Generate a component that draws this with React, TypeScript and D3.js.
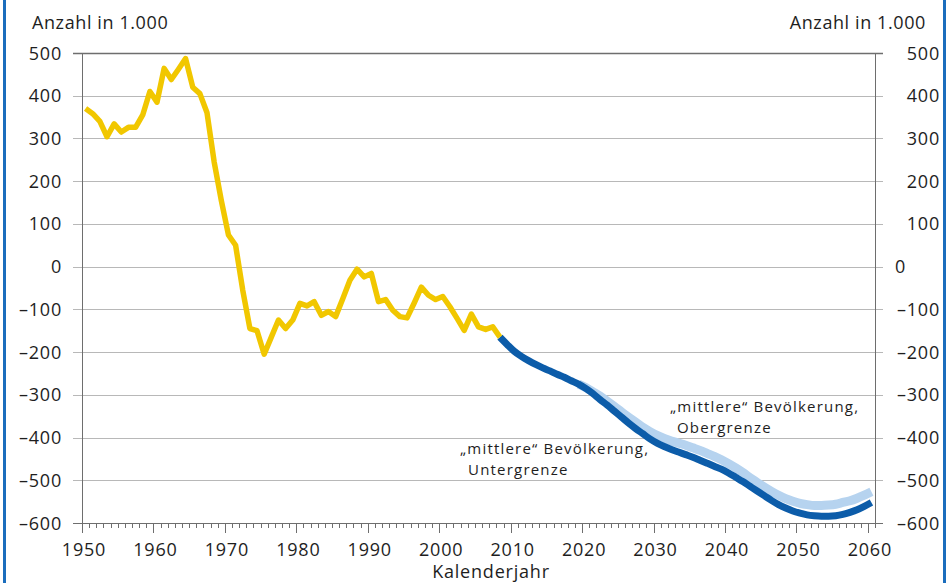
import React from "react";
import * as d3 from "d3";

// Observed values, 1950–2008 (thousands)
const observedStart = 1950;
const observed = [
  370, 358, 340, 304, 334, 315, 326, 326, 355, 410,
  385, 464, 438, 462, 487, 420, 405, 360, 245, 155,
  74, 50, -55, -145, -150, -205, -165, -125, -145, -125,
  -86, -92, -82, -114, -105, -117, -75, -32, -6, -24,
  -16, -82, -77, -102, -117, -120, -85, -48, -67, -77,
  -70, -94, -121, -149, -111, -141, -147, -141, -165,
];

// Projection "mittlere" Bevölkerung, Untergrenze 2008–2060
const lowerStart = 2008;
const lower = [
  -165, -182, -198, -210, -220, -229, -237, -244, -252, -259,
  -267, -275, -285, -297, -311, -324, -338, -352, -366, -379,
  -391, -403, -413, -421, -428, -434, -440, -446, -453, -460,
  -467, -474, -483, -493, -503, -514, -525, -536, -547, -557,
  -565, -572, -577, -581, -583, -584, -584, -583, -580, -575,
  -569, -561, -552,
];

// Projection "mittlere" Bevölkerung, Obergrenze 2019–2060
const upperStart = 2019;
const upper = [
  -275, -283, -293, -303, -315, -327, -340, -352, -364, -376,
  -386, -395, -402, -408, -413, -418, -424, -430, -437, -444,
  -452, -461, -471, -482, -494, -505, -516, -526, -535, -543,
  -549, -554, -557, -559, -559, -558, -556, -552, -548, -542,
  -535, -527,
];

const yTicks = [500, 400, 300, 200, 100, 0, -100, -200, -300, -400, -500, -600];
const xTicks = [1950, 1960, 1970, 1980, 1990, 2000, 2010, 2020, 2030, 2040, 2050, 2060];
const yUnit = "Anzahl in 1.000";
const xTitle = "Kalenderjahr";
const lowerLabel = ["„mittlere“ Bevölkerung,", "Untergrenze"];
const upperLabel = ["„mittlere“ Bevölkerung,", "Obergrenze"];

const W = 949;
const H = 583;
const FONT = "'Open Sans', 'Noto Sans', sans-serif";

export default function App() {
  const x = d3.scaleLinear().domain([1950, 2061]).range([82, 875]);
  const y = d3.scaleLinear().domain([-600, 500]).range([523, 53]);
  const px = (yr: number) => x(yr + 0.5);

  const toPts = (start: number, vals: number[]) =>
    vals.map((v, i) => [start + i, v] as [number, number]);

  const linLine = d3
    .line<[number, number]>()
    .x((d) => px(d[0]))
    .y((d) => y(d[1]));
  const smoothLine = d3
    .line<[number, number]>()
    .x((d) => px(d[0]))
    .y((d) => y(d[1]))
    .curve(d3.curveMonotoneX);

  const fmt = (v: number) => (v < 0 ? "–" + Math.abs(v) : String(v));
  const minorYears = d3.range(1951, 2061).filter((yr) => yr % 10 !== 0);

  const textStyle = {
    fontFamily: FONT,
    fontSize: 18,
    letterSpacing: 0.8,
    fill: "#1e1e1e",
  } as React.CSSProperties;
  const noteStyle = { ...textStyle, fontSize: 15, letterSpacing: 1.2 } as React.CSSProperties;

  return (
    <svg
      width={W}
      height={H}
      style={{ position: "absolute", left: 0, top: 0, background: "#fff" }}
    >
      <rect x={0} y={0} width={W} height={H} fill="#fff" />
      {/* blue frame sides */}
      <line x1={4.5} x2={4.5} y1={0} y2={H} stroke="#1b6dbd" strokeWidth={3} />
      <line x1={944.5} x2={944.5} y1={0} y2={H} stroke="#1b6dbd" strokeWidth={3} />

      {/* gridlines */}
      {yTicks.map((t) => (
        <line
          key={"g" + t}
          x1={73}
          x2={883}
          y1={Math.round(y(t)) + 0.5}
          y2={Math.round(y(t)) + 0.5}
          stroke={t === 500 || t === -600 ? "#6e6e6e" : "#b8b8b8"}
          strokeWidth={t === 500 ? 1.5 : 1}
        />
      ))}
      {/* vertical axes */}
      <line x1={82.5} x2={82.5} y1={y(500)} y2={y(-600) + 10} stroke="#6e6e6e" strokeWidth={1} />
      <line x1={875.5} x2={875.5} y1={y(500)} y2={y(-600) + 5} stroke="#6e6e6e" strokeWidth={1} />
      {/* x ticks */}
      {minorYears.map((yr) => (
        <line
          key={"m" + yr}
          x1={Math.round(x(yr)) + 0.5}
          x2={Math.round(x(yr)) + 0.5}
          y1={y(-600)}
          y2={y(-600) + 5}
          stroke="#6e6e6e"
          strokeWidth={1}
        />
      ))}
      {xTicks.map((yr) => (
        <line
          key={"M" + yr}
          x1={Math.round(x(yr)) + 0.5}
          x2={Math.round(x(yr)) + 0.5}
          y1={y(-600)}
          y2={y(-600) + 10}
          stroke="#6e6e6e"
          strokeWidth={1}
        />
      ))}

      {/* series */}
      <path
        d={smoothLine(toPts(upperStart, upper)) || ""}
        fill="none"
        stroke="#b6d3ef"
        strokeWidth={9}
        strokeLinejoin="round"
      />
      <path
        d={smoothLine(toPts(lowerStart, lower)) || ""}
        fill="none"
        stroke="#0c5ca9"
        strokeWidth={7}
        strokeLinejoin="round"
      />
      <path
        d={linLine(toPts(observedStart, observed)) || ""}
        fill="none"
        stroke="#f1c700"
        strokeWidth={5.5}
        strokeLinejoin="round"
      />

      {/* y labels left */}
      {yTicks.map((t) => (
        <text key={"yl" + t} x={62} y={y(t) + 6.5} textAnchor="end" style={textStyle}>
          {fmt(t)}
        </text>
      ))}
      {/* y labels right */}
      {yTicks.map((t) =>
        t === 0 ? (
          <text key={"yr" + t} x={895} y={y(t) + 6.5} textAnchor="start" style={textStyle}>
            {fmt(t)}
          </text>
        ) : (
          <text key={"yr" + t} x={940} y={y(t) + 6.5} textAnchor="end" style={textStyle}>
            {fmt(t)}
          </text>
        )
      )}
      {/* x labels */}
      {xTicks.map((yr) => (
        <text key={"xl" + yr} x={x(yr) + 2} y={556} textAnchor="middle" style={textStyle}>
          {yr}
        </text>
      ))}
      <text x={491} y={578} textAnchor="middle" style={textStyle}>
        {xTitle}
      </text>
      {/* unit titles */}
      <text x={32} y={29} style={{ ...textStyle, letterSpacing: 0.6 }}>
        {yUnit}
      </text>
      <text x={926} y={29} textAnchor="end" style={{ ...textStyle, letterSpacing: 0.6 }}>
        {yUnit}
      </text>

      {/* annotations */}
      <text style={noteStyle}>
        <tspan x={460} y={454}>{lowerLabel[0]}</tspan>
        <tspan x={468} y={475}>{lowerLabel[1]}</tspan>
      </text>
      <text style={noteStyle}>
        <tspan x={670} y={412}>{upperLabel[0]}</tspan>
        <tspan x={677} y={433}>{upperLabel[1]}</tspan>
      </text>
    </svg>
  );
}
